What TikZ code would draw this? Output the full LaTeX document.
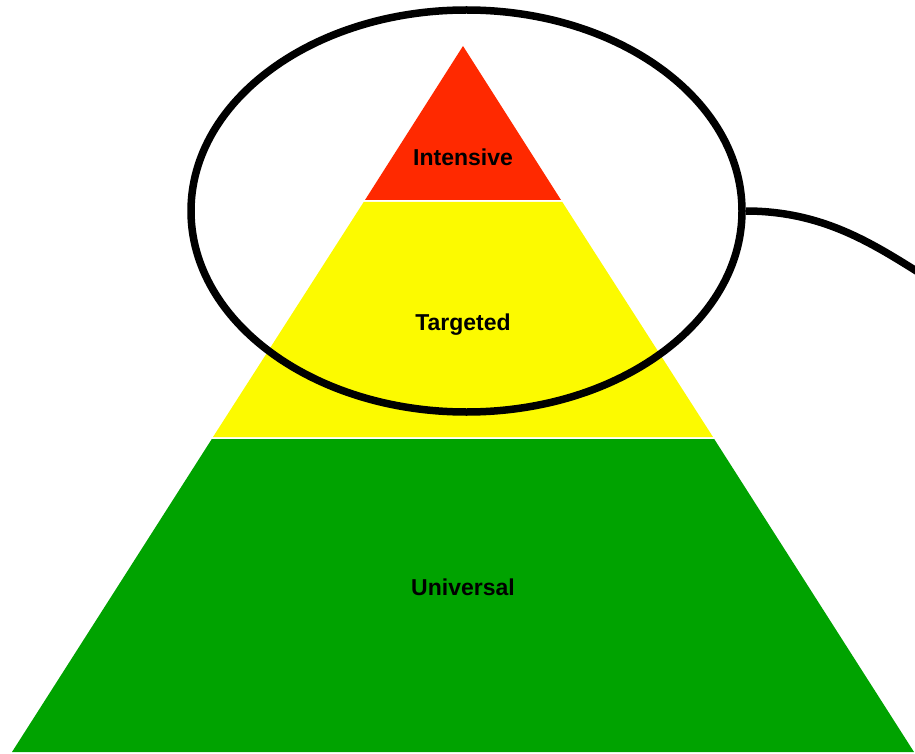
\documentclass[tikz,border=0pt]{standalone}
\usepackage{fontspec}
\setmainfont{Liberation Sans}
\usepackage{xcolor}
\usepackage{tikz}
\usetikzlibrary{shapes.geometric, positioning, calc}

\definecolor{tierred}{RGB}{255,41,0}
\definecolor{tieryellow}{RGB}{252,250,0}
\definecolor{tiergreen}{RGB}{0,163,0}

\tikzset{
  %% Pyramid band
  tier/.style={fill=#1, draw=none},
  tier/.default=tiergreen,
  %% Band label
  tierlabel/.style={
    text=black, inner sep=1pt,
    font=\fontsize{23}{26}\selectfont\bfseries
  },
  %% Highlight ring
  ring/.style={
    ellipse, draw=black, line width=7.5pt,
    minimum width=551pt, minimum height=402pt, inner sep=0pt
  },
  %% Callout line
  link/.style={draw=black, line width=7.5pt},
}

\begin{document}
\begin{tikzpicture}[x=1pt, y=-1pt]

  \useasboundingbox (0,0) rectangle (915,754);

  %% Pyramid bands
  \fill[tier=tierred]    (463,46) -- (365,200) -- (561,200) -- cycle;
  \fill[tier=tieryellow] (363.7,202) -- (562.3,202) -- (713,437) -- (213,437) -- cycle;
  \fill[tier=tiergreen]  (211.8,439) -- (714.2,439) -- (914,752) -- (12,752) -- cycle;

  %% Labels
  \node[tierlabel] (intensive) at (463,157) {Intensive};
  \node[tierlabel] (targeted)  at (463,325) {Targeted};
  \node[tierlabel] (universal) at (463,587) {Universal};

  %% Ring round the top two tiers
  \node[ring] (focus) at (466.5,211) {};

  %% Callout leaving to the right
  \coordinate (tail) at (918,272);
  \draw[link] (focus.east) .. controls +(75,0) and (870,242) .. (tail);

\end{tikzpicture}
\end{document}
